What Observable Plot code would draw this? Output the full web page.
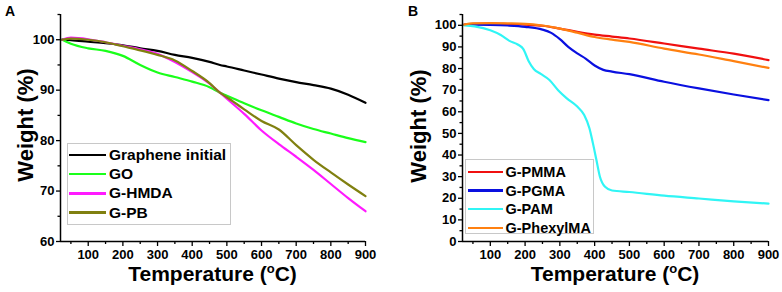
<!DOCTYPE html>
<html><head><meta charset="utf-8">
<script src="https://cdn.jsdelivr.net/npm/d3@7"></script>
<script src="https://cdn.jsdelivr.net/npm/@observablehq/plot@0.6"></script>
<style>
body{margin:0;background:#fff;font-family:"Liberation Sans",Arial,sans-serif;font-weight:bold;}
#wrap{position:relative;width:782px;height:292px;overflow:hidden;background:#fff}
.panel{position:absolute;top:0}
.lab{position:absolute;white-space:nowrap;color:#000;font-weight:bold}
.legend{position:absolute;border:1px solid #c8c8c8;background:#fff;box-sizing:border-box}
.row{position:absolute;left:0;right:0;white-space:nowrap}
.sw{position:absolute;height:2.6px}
.txt{position:absolute;font-weight:bold;color:#000}
sup{font-size:0.62em;vertical-align:0.62em;line-height:0}
</style>
</head><body>
<div id="wrap"></div>
<script>
// ---------- Panel A data ----------
const namesA = ["Graphene initial", "GO", "G-HMDA", "G-PB"];
const colorsA = ["#000000", "#1aff1a", "#ff1aff", "#808010"];
const tempA = [25, 50, 100, 150, 200, 250, 300, 350, 400, 450, 480, 500, 550, 600, 650, 700, 750, 800, 850, 900];
const grapheneInitial = [100, 99.9, 99.6, 99.3, 98.9, 98.3, 97.8, 97.0, 96.4, 95.6, 95.0, 94.7, 93.9, 93.1, 92.3, 91.6, 91.0, 90.3, 89.1, 87.5];
const goW = [100, 99.2, 98.3, 97.8, 96.8, 95.0, 93.5, 92.6, 91.7, 90.6, 89.5, 88.9, 87.4, 86.0, 84.7, 83.4, 82.3, 81.4, 80.5, 79.7];
const gHMDA = [100, 100.4, 100.1, 99.5, 98.8, 98.1, 97.2, 95.6, 93.6, 91.3, 89.5, 88.3, 85.3, 82.0, 79.3, 76.8, 74.2, 71.4, 68.6, 66.0];
const gPB = [100, 100.2, 100.0, 99.5, 98.7, 97.9, 97.0, 95.9, 93.8, 91.4, 89.5, 88.6, 86.2, 83.9, 82.2, 79.1, 76.2, 73.7, 71.3, 69.0];
const yTicksA = [60, 70, 80, 90, 100];
const yMinorA = [65, 75, 85, 95, 105];

// ---------- Panel B data ----------
const namesB = ["G-PMMA", "G-PGMA", "G-PAM", "G-PhexylMA"];
const colorsB = ["#f01010", "#0a10e0", "#30f5f5", "#ff8010"];
const tempPMMA = [25, 50, 100, 150, 200, 250, 300, 350, 400, 450, 500, 600, 700, 800, 900];
const gPMMA = [100.3, 100.7, 100.8, 100.6, 100.3, 99.8, 98.5, 97.0, 95.7, 94.8, 93.9, 91.6, 89.2, 86.9, 83.9];
const tempPGMA = [25, 50, 100, 150, 200, 250, 275, 300, 325, 350, 375, 400, 425, 450, 500, 600, 700, 800, 900];
const gPGMA = [100.2, 100.3, 100.2, 99.9, 99.3, 98.0, 96.5, 93.6, 89.9, 87.0, 84.5, 81.4, 79.4, 78.6, 77.4, 73.9, 70.8, 68.0, 65.4];
const tempPAM = [25, 55, 100, 130, 155, 180, 195, 210, 225, 245, 270, 295, 320, 350, 370, 385, 395, 405, 415, 430, 450, 500, 600, 700, 800, 900];
const gPAM = [100, 99.5, 97.7, 95.5, 92.8, 91.0, 89.0, 83.5, 79.8, 77.5, 74.7, 70.0, 66.2, 62.4, 58.5, 52.4, 45.5, 37.8, 30.1, 25.3, 23.6, 22.9, 21.2, 19.9, 18.6, 17.5];
const tempPhexyl = [25, 50, 100, 150, 200, 250, 300, 350, 400, 450, 500, 600, 700, 800, 900];
const gPhexylMA = [100.3, 100.9, 101.0, 100.9, 100.7, 99.9, 98.5, 96.6, 94.6, 93.4, 92.3, 89.2, 86.5, 83.4, 80.3];
const yTicksB = [0, 10, 20, 30, 40, 50, 60, 70, 80, 90, 100];
const yMinorB = [5, 15, 25, 35, 45, 55, 65, 75, 85, 95, 105];

// ---------- shared ----------
const xTicks = [100, 200, 300, 400, 500, 600, 700, 800, 900];
const xMinor = [50, 150, 250, 350, 450, 550, 650, 750, 850];
const xLabelText = "Temperature (";
const yLabelText = "Weight (%)";

const seriesA = [
  {name: namesA[0], t: tempA, v: grapheneInitial},
  {name: namesA[1], t: tempA, v: goW},
  {name: namesA[2], t: tempA, v: gHMDA},
  {name: namesA[3], t: tempA, v: gPB}
];
const seriesB = [
  {name: namesB[0], t: tempPMMA, v: gPMMA},
  {name: namesB[1], t: tempPGMA, v: gPGMA},
  {name: namesB[2], t: tempPAM, v: gPAM},
  {name: namesB[3], t: tempPhexyl, v: gPhexylMA}
];

function makePanel(series, names, colors, o) {
  const data = series.flatMap(s => s.t.map((t, i) => ({name: s.name, t, v: s.v[i]})));
  // draw order: reverse so first legend item on top? keep natural order
  return Plot.plot({
    width: 391, height: 292,
    marginTop: 14, marginBottom: 51, marginLeft: o.marginLeft, marginRight: o.marginRight,
    x: {domain: [20, 900]},
    y: {domain: o.yDomain},
    color: {domain: names, range: colors},
    style: {fontFamily: "'Liberation Sans', Arial, sans-serif", fontWeight: "bold", fontSize: "13px", background: "transparent", overflow: "visible", color: "#000"},
    marks: [
      Plot.line(data, {x: "t", y: "v", z: "name", stroke: "name", strokeWidth: 2.2, curve: "monotone-x"}),
      Plot.axisX({ticks: xTicks, tickSize: 5, tickPadding: 3, tickFormat: d => String(d), label: null, fontSize: 13, fontWeight: "bold", strokeWidth: 1.3}),
      Plot.axisX({ticks: xMinor, tickSize: 3, tickFormat: () => "", label: null, strokeWidth: 1.3}),
      Plot.axisY({ticks: o.yTicks, tickSize: 4, tickPadding: 2, tickFormat: d => String(d), label: null, fontSize: 13, fontWeight: "bold", strokeWidth: 1.3}),
      Plot.axisY({ticks: o.yMinor, tickSize: 2.5, tickFormat: () => "", label: null, strokeWidth: 1.3}),
      Plot.ruleX([20], {strokeWidth: 1.5}),
      Plot.ruleY([o.yDomain[0]], {strokeWidth: 1.5})
    ]
  });
}

const wrap = document.getElementById("wrap");

function addPanel(left, svg) {
  svg.classList.add("panel");
  svg.style.left = left + "px";
  wrap.appendChild(svg);
}

addPanel(0, makePanel(seriesA, namesA, colorsA, {marginLeft: 60, marginRight: 26, yDomain: [60, 105], yTicks: yTicksA, yMinor: yMinorA}));
addPanel(391, makePanel(seriesB, namesB, colorsB, {marginLeft: 71, marginRight: 14, yDomain: [0, 105], yTicks: yTicksB, yMinor: yMinorB}));

function addLabel(html, css) {
  const d = document.createElement("div");
  d.className = "lab";
  d.innerHTML = html;
  Object.assign(d.style, css);
  wrap.appendChild(d);
  return d;
}

// panel letters
addLabel("A", {left: "5px", top: "4px", fontSize: "14px", lineHeight: "14px"});
addLabel("B", {left: "408px", top: "4px", fontSize: "14px", lineHeight: "14px"});

// x labels
const xl = xLabelText + "<sup>o</sup>C)";
for (const cx of [212.5, 615]) {
  addLabel(xl, {left: cx + "px", top: "263px", fontSize: "21px", lineHeight: "21px", transform: "translateX(-50%)"});
}
// y labels
for (const [cx, cy] of [[26, 125], [419, 126]]) {
  addLabel(yLabelText, {left: cx + "px", top: cy + "px", fontSize: "22px", lineHeight: "22px", transform: "translate(-50%,-50%) rotate(-90deg)"});
}

function addLegend(names, colors, box) {
  const lg = document.createElement("div");
  lg.className = "legend";
  Object.assign(lg.style, {left: box.left + "px", top: box.top + "px", width: box.width + "px", height: box.height + "px"});
  names.forEach((n, i) => {
    const cy = box.first + i * box.step - box.top;
    const sw = document.createElement("div");
    sw.className = "sw";
    Object.assign(sw.style, {left: box.swL + "px", width: box.swW + "px", top: (cy - 1.3) + "px", background: colors[i]});
    lg.appendChild(sw);
    const tx = document.createElement("div");
    tx.className = "txt";
    tx.textContent = n;
    Object.assign(tx.style, {left: box.txL + "px", top: (cy - 10) + "px", fontSize: box.fs + "px", lineHeight: "20px"});
    lg.appendChild(tx);
  });
  wrap.appendChild(lg);
}

addLegend(namesA, colorsA, {left: 66.5, top: 143, width: 164, height: 82, first: 154, step: 19.2, swL: 1.5, swW: 37, txL: 41.5, fs: 15.5});
addLegend(namesB, colorsB, {left: 465, top: 159, width: 129, height: 75, first: 171, step: 18.6, swL: 1.5, swW: 35, txL: 39.5, fs: 14.5});
</script>
</body></html>
